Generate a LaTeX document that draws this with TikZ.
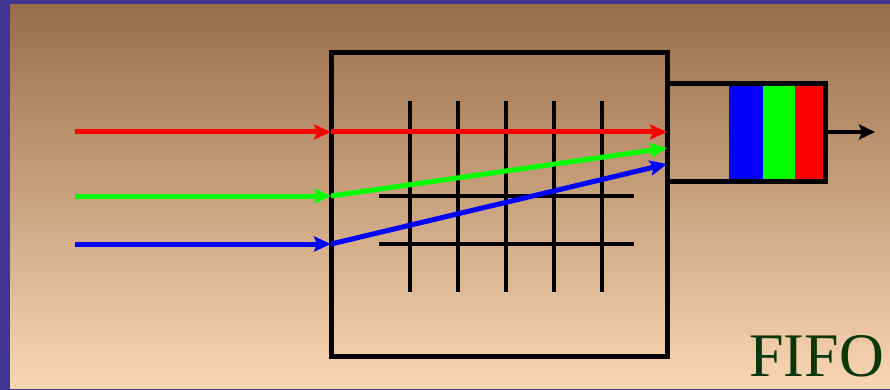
\documentclass[tikz,border=0pt]{standalone}
\usepackage{fontspec}
\newfontfamily\fifofont{Liberation Serif}
\usetikzlibrary{arrows.meta}
\definecolor{frame}{RGB}{64,53,144}
\definecolor{bgtop}{RGB}{152,110,72}
\definecolor{bgbot}{RGB}{249,214,178}
\definecolor{fifogreen}{RGB}{10,56,10}
\tikzset{
  flow/.style={line width=5pt,-{Stealth[length=17pt,width=15pt,inset=3pt]}},
  boxline/.style={line width=5pt,draw=black},
  gridline/.style={line width=3.5pt,black},
}
\begin{document}
\begin{tikzpicture}[x=1pt,y=-1pt]
\useasboundingbox (0,0) rectangle (890,390);
\fill[frame] (0,0) rectangle (890,390);
\shade[top color=bgtop,bottom color=bgbot] (10,5) rectangle (890,388);
% grid
\foreach \x in {410,458,506,554,602} \draw[gridline] (\x,101) -- (\x,292);
\foreach \y in {196,244} \draw[gridline] (379,\y) -- (634,\y);
% fifo bands
\fill[blue] (729,84) rectangle (763,181);
\fill[green] (763,84) rectangle (795,181);
\fill[red] (795,84) rectangle (825,181);
% boxes
\node[boxline,minimum width=336pt,minimum height=303pt,inner sep=0pt] (sw) at (499,204.5) {};
\draw[boxline,line join=miter] (667,84) -- (825,84) -- (825,181) -- (667,181);
\coordinate (fifoout) at (825,132);
\coordinate (outend) at (875,132);
\draw[line width=3.5pt,-{Stealth[length=16pt,width=15pt,inset=3pt]}] (fifoout) -- (outend);
% flows
\coordinate (rin) at (75,132); \coordinate (rmid) at (331,132); \coordinate (rout) at (667,132);
\coordinate (gin) at (75,196); \coordinate (gmid) at (331,196); \coordinate (gout) at (667,148);
\coordinate (bin) at (75,244); \coordinate (bmid) at (331,244); \coordinate (bout) at (667,164);
\draw[flow,red] (rin) -- (rmid);
\draw[flow,red] (rmid) -- (rout);
\draw[flow,green] (gin) -- (gmid);
\draw[flow,green] (gmid) -- (gout);
\draw[flow,blue] (bin) -- (bmid);
\draw[flow,blue] (bmid) -- (bout);
\node[anchor=base east,inner sep=0pt,text=fifogreen,font=\fifofont\fontsize{62}{62}\selectfont] (fifo) at (884,376) {FIFO};
\end{tikzpicture}
\end{document}
